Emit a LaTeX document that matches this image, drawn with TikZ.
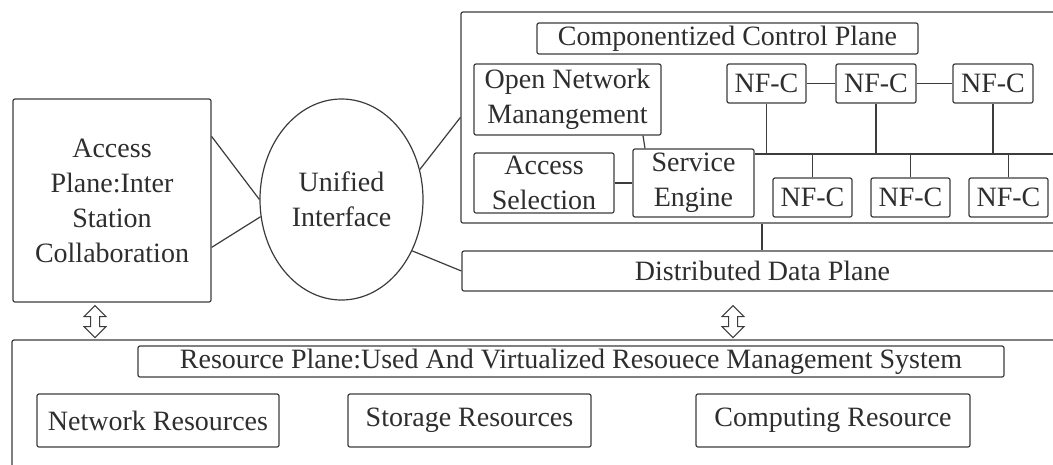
\documentclass[tikz,border=0pt]{standalone}
\usepackage{fontspec}
\setmainfont{Liberation Serif}
\usetikzlibrary{calc,shapes.geometric}
\definecolor{ink}{HTML}{3C3C3C}
\definecolor{txt}{HTML}{2E2E2E}
\begin{document}
\begin{tikzpicture}[x=1pt,y=-1pt,
  line/.style={draw=ink, line width=1.2pt},
  box/.style={line, rectangle, rounded corners=2pt, inner sep=0pt, text=txt,
    align=center, font=\fontsize{28}{35}\selectfont},
  oval/.style={line, ellipse, inner sep=0pt, text=txt, align=center,
    font=\fontsize{28}{35}\selectfont},
  dblarrow/.pic={\draw[line, line width=1pt, fill=white]
    (0,0) -- (11,11) -- (4.5,11) -- (4.5,21) -- (11,21) -- (0,32)
    -- (-11,21) -- (-4.5,21) -- (-4.5,11) -- (-11,11) -- cycle;}
]
\clip (0,0) rectangle (1053,464);
\fill[white] (0,0) rectangle (1053,464);

% access plane and unified interface
\node[box, minimum width=198, minimum height=203] (acc) at (112,200.5)
  {Access\\Plane:Inter\\Station\\Collaboration};
\node[oval, minimum width=163, minimum height=201] (ui) at (341.5,199.5)
  {Unified\\Interface};

% componentized control plane
\node[box, minimum width=602, minimum height=211] (ctrl) at (762,117.5) {};
\node[box, minimum width=381, minimum height=31] (ccp) at (727.5,38.5)
  {Componentized Control Plane};
\node[box, minimum width=187, minimum height=71] (onm) at (567.5,99.5)
  {Open Network\\Manangement};
\node[box, minimum width=140, minimum height=60] (as) at (544,183)
  {Access\\Selection};
\node[box, minimum width=121, minimum height=68] (se) at (693.5,183)
  {Service\\Engine};
\node[box, minimum width=79, minimum height=39] (nt1) at (766.5,83.5) {NF-C};
\node[box, minimum width=80, minimum height=39] (nt2) at (876,83.5) {NF-C};
\node[box, minimum width=80, minimum height=39] (nt3) at (993,83.5) {NF-C};
\node[box, minimum width=79, minimum height=39] (nb1) at (812.5,197.5) {NF-C};
\node[box, minimum width=79, minimum height=39] (nb2) at (910.5,197.5) {NF-C};
\node[box, minimum width=79, minimum height=39] (nb3) at (1008.5,197.5) {NF-C};

% distributed data plane
\node[box, minimum width=601, minimum height=40] (data) at (762.5,271)
  {Distributed Data Plane};

% resource plane
\node[box, minimum width=1058, minimum height=140] (res) at (541,410) {};
\node[box, minimum width=866, minimum height=31] (rtitle) at (571,361.5)
  {Resource Plane:Used And Virtualized Resouece Management System};
\node[box, minimum width=242, minimum height=53] (net) at (158,420.5)
  {Network Resources};
\node[box, minimum width=243, minimum height=53] (sto) at (469.5,420.5)
  {Storage Resources};
\node[box, minimum width=274, minimum height=53] (comp) at (833,420.5)
  {Computing Resource};

% connectors around the unified interface
\draw[line] ([yshift=-38pt]acc.north east) -- (ui.180);
\draw[line] ([yshift=-149pt]acc.north east) -- (ui.192);
\draw[line] (ui.21) -- ([yshift=-106pt]ctrl.north west);
\draw[line] (ui.-36) -- (data.west);

% control plane wiring
\coordinate (bus) at (1070,154);
\draw[line] ([xshift=75.5pt]onm.south) -- ([xshift=-48.5pt]se.north);
\draw[line] (as.east) -- (se.west);
\draw[line] (nt1.east) -- (nt2.west);
\draw[line] (nt2.east) -- (nt3.west);
\draw[line] (bus -| se.east) -- (bus);
\foreach \n in {nt1,nt2,nt3}{\draw[line] (\n.south) -- (\n.south |- bus);}
\foreach \n in {nb1,nb2,nb3}{\draw[line] (\n.north) -- (\n.north |- bus);}
\draw[line] (ctrl.south) -- (ctrl.south |- data.north);

% hollow double arrows towards the resource plane
\pic at ($(acc.south)+(-17,3)$) {dblarrow};
\pic at ($(data.south)+(-29.5,14)$) {dblarrow};
\end{tikzpicture}
\end{document}
